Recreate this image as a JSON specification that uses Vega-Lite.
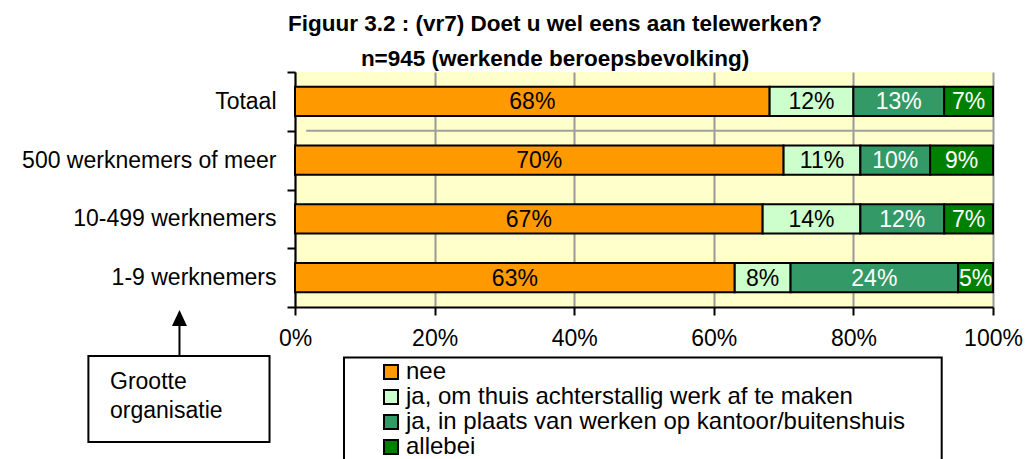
{
  "$schema": "https://vega.github.io/schema/vega-lite/v6.json",
  "width": 698,
  "height": 235,
  "autosize": {"type": "none"},
  "padding": {"left": 295, "top": 72, "right": 33, "bottom": 152},
  "background": "white",
  "config": {
    "font": "Liberation Sans",
    "view": {"fill": "#FFFFCC", "stroke": null},
    "axis": {"titleFont": "Liberation Sans", "labelFont": "Liberation Sans"},
    "legend": {
      "orient": "none",
      "legendX": 84,
      "legendY": 288,
      "padding": 0,
      "symbolType": "square",
      "symbolSize": 196,
      "symbolStrokeColor": "black",
      "symbolStrokeWidth": 2,
      "labelFont": "Liberation Sans",
      "labelFontSize": 24,
      "labelColor": "black",
      "labelOffset": 3,
      "labelLimit": 700,
      "rowPadding": 1
    }
  },
  "title": {
    "text": ["Figuur 3.2 : (vr7) Doet u wel eens aan telewerken?", "n=945 (werkende beroepsbevolking)"],
    "font": "Liberation Sans",
    "fontSize": 22.5,
    "fontWeight": "bold",
    "color": "black",
    "lineHeight": 35,
    "anchor": "middle",
    "dx": -89,
    "dy": 11,
    "offset": 2
  },
  "datasets": {
    "survey": [
      {"org": "Totaal", "answer": "nee", "code": 1, "pct": 0.68},
      {"org": "Totaal", "answer": "ja, om thuis achterstallig werk af te maken", "code": 2, "pct": 0.12},
      {"org": "Totaal", "answer": "ja, in plaats van werken op kantoor/buitenshuis", "code": 3, "pct": 0.13},
      {"org": "Totaal", "answer": "allebei", "code": 4, "pct": 0.07},
      {"org": "500 werknemers of meer", "answer": "nee", "code": 1, "pct": 0.70},
      {"org": "500 werknemers of meer", "answer": "ja, om thuis achterstallig werk af te maken", "code": 2, "pct": 0.11},
      {"org": "500 werknemers of meer", "answer": "ja, in plaats van werken op kantoor/buitenshuis", "code": 3, "pct": 0.10},
      {"org": "500 werknemers of meer", "answer": "allebei", "code": 4, "pct": 0.09},
      {"org": "10-499 werknemers", "answer": "nee", "code": 1, "pct": 0.67},
      {"org": "10-499 werknemers", "answer": "ja, om thuis achterstallig werk af te maken", "code": 2, "pct": 0.14},
      {"org": "10-499 werknemers", "answer": "ja, in plaats van werken op kantoor/buitenshuis", "code": 3, "pct": 0.12},
      {"org": "10-499 werknemers", "answer": "allebei", "code": 4, "pct": 0.07},
      {"org": "1-9 werknemers", "answer": "nee", "code": 1, "pct": 0.63},
      {"org": "1-9 werknemers", "answer": "ja, om thuis achterstallig werk af te maken", "code": 2, "pct": 0.08},
      {"org": "1-9 werknemers", "answer": "ja, in plaats van werken op kantoor/buitenshuis", "code": 3, "pct": 0.24},
      {"org": "1-9 werknemers", "answer": "allebei", "code": 4, "pct": 0.05}
    ]
  },
  "resolve": {"scale": {"y": "independent"}, "axis": {"y": "independent"}},
  "layer": [
    {
      "data": {"name": "survey"},
      "transform": [
        {"stack": "pct", "groupby": ["org"], "sort": [{"field": "code", "order": "ascending"}], "as": ["x0", "x1"]}
      ],
      "encoding": {
        "y": {
          "field": "org",
          "type": "nominal",
          "scale": {"domain": ["Totaal", "500 werknemers of meer", "10-499 werknemers", "1-9 werknemers"], "paddingInner": 0, "paddingOuter": 0},
          "axis": {
            "title": null,
            "domainColor": "black",
            "domainWidth": 2,
            "tickColor": "black",
            "tickWidth": 2,
            "tickSize": 8,
            "tickBand": "extent",
            "labelFontSize": 23,
            "labelColor": "black",
            "labelPadding": 11,
            "labelLimit": 400,
            "grid": false
          }
        }
      },
      "layer": [
        {
          "mark": {"type": "bar", "height": {"band": 0.5}, "stroke": "black", "strokeWidth": 2},
          "encoding": {
            "x": {
              "field": "x0",
              "type": "quantitative",
              "scale": {"domain": [0, 1], "nice": false, "zero": false},
              "axis": {
                "title": null,
                "values": [0, 0.2, 0.4, 0.6, 0.8, 1],
                "format": ".0%",
                "domainColor": "black",
                "domainWidth": 2,
                "tickColor": "black",
                "tickWidth": 2,
                "tickSize": 8,
                "labelFontSize": 23,
                "labelColor": "black",
                "labelPadding": 12,
                "labelFlush": false,
                "labelOverlap": false,
                "grid": true,
                "gridColor": "#999999",
                "gridWidth": 2
              }
            },
            "x2": {"field": "x1"},
            "color": {
              "field": "answer",
              "type": "nominal",
              "scale": {
                "domain": ["nee", "ja, om thuis achterstallig werk af te maken", "ja, in plaats van werken op kantoor/buitenshuis", "allebei"],
                "range": ["#FF9900", "#CCFFCC", "#339966", "#008000"]
              },
              "legend": {"title": null}
            }
          }
        },
        {
          "transform": [
            {"fold": ["x0", "x1"], "as": ["edge", "pos"]},
            {"aggregate": [{"op": "mean", "field": "pos", "as": "mid"}], "groupby": ["org", "answer", "code", "pct"]}
          ],
          "mark": {"type": "text", "fontSize": 23, "font": "Liberation Sans", "align": "center", "baseline": "middle", "dy": 1},
          "encoding": {
            "x": {"field": "mid", "type": "quantitative", "title": null, "scale": {"domain": [0, 1], "nice": false, "zero": false}},
            "text": {"field": "pct", "type": "quantitative", "format": ".0%"},
            "color": {"condition": {"test": "datum.code >= 3", "value": "white"}, "value": "black"}
          }
        },
        {
          "data": {"values": [{}]},
          "mark": {"type": "rule", "color": "#A0A0A0", "strokeWidth": 2},
          "encoding": {
            "y": {"datum": "500 werknemers of meer", "type": "nominal", "bandPosition": 0},
            "x": {"datum": 0.016, "type": "quantitative", "title": null, "scale": {"domain": [0, 1], "nice": false, "zero": false}},
            "x2": {"datum": 1}
          }
        }
      ]
    },
    {
      "data": {"values": [{}]},
      "layer": [
        {
          "mark": {"type": "rect", "fillOpacity": 0, "stroke": "black", "strokeWidth": 2},
          "encoding": {
            "x": {"datum": -0.296, "type": "quantitative", "title": null, "scale": {"domain": [0, 1], "nice": false, "zero": false}},
            "x2": {"datum": -0.0365},
            "y": {"datum": 120.9, "type": "quantitative", "scale": {"domain": [0, 100], "reverse": true, "nice": false, "zero": false}, "axis": null},
            "y2": {"datum": 157.4}
          }
        },
        {
          "mark": {"type": "text", "align": "left", "baseline": "alphabetic", "fontSize": 23, "font": "Liberation Sans", "color": "black", "lineBreak": "\n", "lineHeight": 29},
          "encoding": {
            "x": {"datum": -0.265, "type": "quantitative", "title": null, "scale": {"domain": [0, 1], "nice": false, "zero": false}},
            "y": {"datum": 135.0, "type": "quantitative", "scale": {"domain": [0, 100], "reverse": true, "nice": false, "zero": false}, "axis": null},
            "text": {"value": "Grootte\norganisatie"}
          }
        },
        {
          "mark": {"type": "rule", "color": "black", "strokeWidth": 2},
          "encoding": {
            "x": {"datum": -0.1655, "type": "quantitative", "title": null, "scale": {"domain": [0, 1], "nice": false, "zero": false}},
            "y": {"datum": 108.1, "type": "quantitative", "scale": {"domain": [0, 100], "reverse": true, "nice": false, "zero": false}, "axis": null},
            "y2": {"datum": 120.9}
          }
        },
        {
          "mark": {"type": "point", "shape": "M0,-1L0.94,1L-0.94,1Z", "size": 256, "filled": true, "color": "black", "opacity": 1, "strokeWidth": 0},
          "encoding": {
            "x": {"datum": -0.1655, "type": "quantitative", "title": null, "scale": {"domain": [0, 1], "nice": false, "zero": false}},
            "y": {"datum": 104.7, "type": "quantitative", "scale": {"domain": [0, 100], "reverse": true, "nice": false, "zero": false}, "axis": null}
          }
        },
        {
          "mark": {"type": "rect", "fillOpacity": 0, "stroke": "black", "strokeWidth": 2},
          "encoding": {
            "x": {"datum": 0.0702, "type": "quantitative", "title": null, "scale": {"domain": [0, 1], "nice": false, "zero": false}},
            "x2": {"datum": 0.9265},
            "y": {"datum": 121.5, "type": "quantitative", "scale": {"domain": [0, 100], "reverse": true, "nice": false, "zero": false}, "axis": null},
            "y2": {"datum": 170}
          }
        }
      ]
    }
  ]
}
